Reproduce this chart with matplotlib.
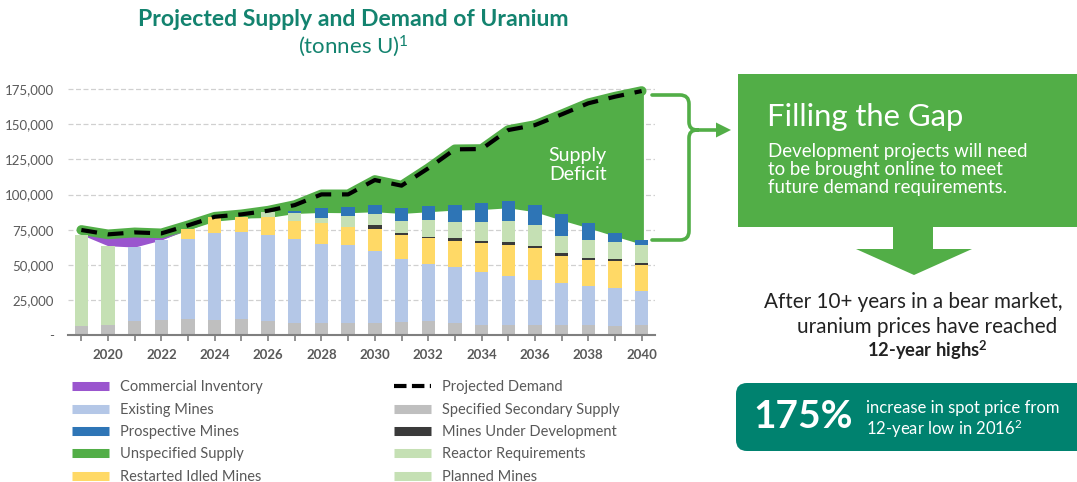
import matplotlib
matplotlib.use("Agg")
import matplotlib.pyplot as plt
import numpy as np
from matplotlib.patches import Rectangle, Polygon, FancyBboxPatch, PathPatch
from matplotlib.path import Path
from matplotlib.lines import Line2D
from matplotlib.ticker import FuncFormatter

plt.rcParams['font.family'] = ['Lato', 'DejaVu Sans']
plt.rcParams['mathtext.fontset'] = 'custom'
plt.rcParams['mathtext.rm'] = 'Lato'
plt.rcParams['mathtext.bf'] = 'Lato:bold'
plt.rcParams['mathtext.it'] = 'Lato:italic'

# ---------------- data (tonnes U) ----------------
years = list(range(2019, 2041))
secondary_supply = [6600, 7300, 9900, 11100, 11800, 10900, 11600, 10200, 8500, 8500, 9000,
                    9000, 9700, 9900, 8500, 7500, 7100, 7500, 7100, 7500, 6800, 7500]
reactor_requirements = [64900, 56300, 0, 0, 0, 0, 0, 0, 0, 0, 0,
                        0, 0, 0, 0, 0, 0, 0, 0, 0, 0, 0]
existing_mines = [0, 0, 52800, 56600, 56800, 62000, 62000, 61000, 60100, 56600, 55100,
                  50900, 44700, 41000, 40000, 37500, 35200, 32000, 30300, 27300, 27000, 24200]
restarted_idled = [0, 0, 0, 0, 6900, 11300, 10600, 12800, 12800, 14400, 12800,
                   15400, 16600, 18400, 18700, 20800, 22000, 22300, 18900, 18900, 19200, 18400]
under_development = [0, 0, 0, 0, 0, 0, 0, 0, 0, 0, 0,
                     3000, 1400, 700, 1700, 1200, 1700, 1600, 1900, 1000, 1000, 1500]
planned_mines = [0, 0, 0, 0, 0, 0, 0, 3300, 5200, 3800, 7600,
                 7600, 8600, 11700, 11600, 13200, 15000, 15100, 12100, 13000, 12500, 12700]
prospective_mines = [0, 0, 0, 0, 0, 0, 0, 0, 1900, 7100, 6600,
                     6600, 9400, 10100, 12300, 13800, 14200, 14000, 15600, 12100, 6200, 3400]
identified_supply = [73500, 70000, 70000, 69500, 76000, 83500, 84500, 84900, 87800, 88500, 88300,
                     89000, 87800, 89000, 90200, 90600, 91800, 89000, 83100, 77600, 71700, 66000]
inventory_years = [2019, 2020, 2021, 2022, 2023]
projected_demand = [74800, 71700, 73100, 72400, 78100, 84200, 85900, 88500, 92500, 100100, 100100,
                    110300, 106300, 118600, 132100, 132300, 145800, 149300, 156900, 164800, 169500, 173500]
y_ticks = [0, 25000, 50000, 75000, 100000, 125000, 150000, 175000]
x_labels = list(range(2020, 2041, 2))

# ---------------- colours ----------------
C_PURPLE = '#9A55CE'
C_EXIST = '#B4C7E7'
C_PROSP = '#2E75B6'
C_GREEN = '#52AE47'
C_YELLOW = '#FFD966'
C_GRAY = '#BFBFBF'
C_DARK = '#3A3A3A'
C_LGREEN = '#C5E0B4'
C_TEAL = '#00826F'
C_TITLE = '#13836F'
C_TXT = '#595959'

fig = plt.figure(figsize=(10.77, 4.82), dpi=100)
W, H = 1077, 482

# overlay axes in pixel coordinates for decorations
ov = fig.add_axes([0, 0, 1, 1], zorder=0)
ov.set_xlim(0, W)
ov.set_ylim(H, 0)
ov.axis('off')

ax = fig.add_axes([68 / W, 1 - 335.3 / H, (655 - 68) / W, (335.3 - 81.9) / H], zorder=1)
ax.patch.set_alpha(0)

x = np.array(years, dtype=float)
sec = np.array(secondary_supply, float)
rea = np.array(reactor_requirements, float)
exi = np.array(existing_mines, float)
res = np.array(restarted_idled, float)
dev = np.array(under_development, float)
pla = np.array(planned_mines, float)
pro = np.array(prospective_mines, float)
dem = np.array(projected_demand, float)
sup = np.array(identified_supply, float)

bar_total = sec + rea + exi + res + dev + pla + pro

# unspecified supply (green) and commercial inventory (purple)
ax.fill_between(x, sup, dem, color=C_GREEN, lw=2.5, edgecolor=C_GREEN, zorder=2)
mask = np.isin(x, inventory_years)
ax.fill_between(x[mask], bar_total[mask], sup[mask], where=sup[mask] > bar_total[mask],
                color=C_PURPLE, lw=0, interpolate=True, zorder=2.1)
ax.plot(x, dem, color=C_GREEN, lw=7, solid_capstyle='round', solid_joinstyle='round', zorder=2.2)

# stacked bars
bw = 0.5
bottom = np.zeros(len(x))
for vals, col in [(sec, C_GRAY), (rea, C_LGREEN), (exi, C_EXIST), (res, C_YELLOW),
                  (dev, C_DARK), (pla, C_LGREEN), (pro, C_PROSP)]:
    ax.bar(x, vals, bw, bottom=bottom, color=col, lw=0, zorder=3)
    bottom = bottom + vals

# projected demand
ax.plot(x, dem, color='black', lw=3, dashes=(3.8, 2.6), zorder=4)

ax.text(2037.6, 121000, 'Supply\nDeficit', color='white', fontsize=14, ha='center', va='center',
        linespacing=1.15, zorder=5)

ax.set_xlim(2018.5, 2040.5)
ax.set_ylim(0, 180000)
ax.set_yticks(y_ticks)
ax.yaxis.set_major_formatter(FuncFormatter(lambda v, p: '-' if v == 0 else f'{int(v):,}'))
ax.set_xticks(years)
ax.set_xticklabels([str(y) if y in x_labels else '' for y in years])
ax.grid(axis='y', color='#D0D0D0', ls=(0, (4, 2)), lw=0.9, zorder=0)
ax.set_axisbelow(True)
for s in ['top', 'right', 'left']:
    ax.spines[s].set_visible(False)
ax.spines['bottom'].set_color('#7F7F7F')
ax.spines['bottom'].set_linewidth(1.5)
ax.spines['bottom'].set_zorder(5)
ax.tick_params(axis='y', length=0, labelsize=9.5, labelcolor=C_TXT, pad=10)
ax.tick_params(axis='x', length=4, width=1.2, color='#7F7F7F', labelsize=9.5, labelcolor=C_TXT, pad=6)
for lab in ax.get_xticklabels():
    lab.set_fontweight('bold')

# titles
fig.text(353 / W, 1 - 20 / H, 'Projected Supply and Demand of Uranium', color=C_TITLE,
         fontsize=16.6, fontweight='bold', ha='center', va='center')
fig.text(353 / W, 1 - 46 / H, r'(tonnes U)$^{\mathrm{1}}$', color=C_TITLE, fontsize=16,
         ha='center', va='center')

# legends
def ph(c):
    return Line2D([], [], color=c, lw=6.5, solid_capstyle='butt')

left_h = [ph(C_PURPLE), ph(C_EXIST), ph(C_PROSP), ph(C_GREEN), ph(C_YELLOW)]
left_l = ['Commercial Inventory', 'Existing Mines', 'Prospective Mines', 'Unspecified Supply',
          'Restarted Idled Mines']
right_h = [Line2D([], [], color='black', lw=3, dashes=(3, 1.3)), ph(C_GRAY), ph(C_DARK),
           ph(C_LGREEN), ph(C_LGREEN)]
right_l = ['Projected Demand', 'Specified Secondary Supply', 'Mines Under Development',
           'Reactor Requirements', 'Planned Mines']
common = dict(loc='upper left', frameon=False, fontsize=10.5, handlelength=2.55,
              handletextpad=0.75, labelspacing=0.57, borderpad=0, borderaxespad=0,
              labelcolor=C_TXT)
fig.legend(left_h, left_l, bbox_to_anchor=(72 / W, 1 - 380.5 / H), **common)
fig.legend(right_h, right_l, bbox_to_anchor=(394 / W, 1 - 380.5 / H), **common)

# ---------------- right panel ----------------
ov.add_patch(Rectangle((738, 74), 360, 153, color=C_GREEN, lw=0))
ov.add_patch(Polygon([(893, 226), (933, 226), (933, 249), (972, 249), (914, 275),
                      (856, 249), (893, 249)], closed=True, color=C_GREEN, lw=0))
ov.text(767, 117, 'Filling the Gap', color='white', fontsize=22.3, ha='left', va='center')
ov.text(768, 169.5, 'Development projects will need\nto be brought online to meet\nfuture demand requirements.',
        color='white', fontsize=13.4, ha='left', va='center', linespacing=1.08)

ov.text(1063, 302, 'After 10+ years in a bear market,', color='#222222', fontsize=14.9,
        ha='right', va='center')
ov.text(1057, 327, 'uranium prices have reached', color='#222222', fontsize=14.9,
        ha='right', va='center')
ov.text(927, 350, r'12-year highs$^{\mathbf{2}}$', color='#222222', fontsize=13.2,
        fontweight='bold', ha='center', va='center')

ov.add_patch(FancyBboxPatch((736, 383), 380, 68, boxstyle='round,pad=0,rounding_size=11',
                            color=C_TEAL, lw=0))
ov.text(803, 416, '175%', color='white', fontsize=28, fontweight='bold', ha='center', va='center')
ov.text(866, 407.5, 'increase in spot price from', color='white',
        fontsize=12, ha='left', va='center')
ov.text(866, 428.5, r'12-year low in 2016$^{\mathrm{2}}$', color='white',
        fontsize=12, ha='left', va='center')

# bracket with arrow
verts = [(652, 95), (680, 95), (689, 95), (689, 104), (689, 122), (689, 130), (697, 130),
         (697, 130), (689, 130), (689, 138), (689, 231), (689, 240), (680, 240), (652, 240),
         (697, 130), (718, 130)]
codes = [Path.MOVETO, Path.LINETO, Path.CURVE3, Path.CURVE3, Path.LINETO, Path.CURVE3, Path.CURVE3,
         Path.MOVETO, Path.CURVE3, Path.CURVE3, Path.LINETO, Path.CURVE3, Path.CURVE3, Path.LINETO,
         Path.MOVETO, Path.LINETO]
ov.add_patch(PathPatch(Path(verts, codes), fill=False, edgecolor=C_GREEN, lw=2.6,
                       capstyle='round', joinstyle='round'))
ov.add_patch(Polygon([(716, 122.5), (731, 130), (716, 137.5)], closed=True, color=C_GREEN, lw=0))

fig.savefig('out.png', dpi=100)
